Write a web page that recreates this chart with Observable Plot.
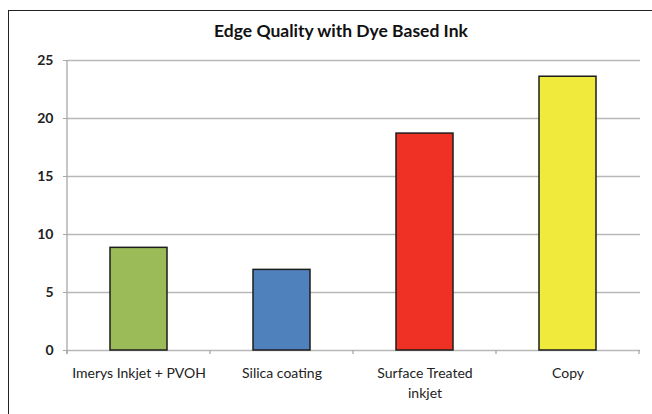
<!DOCTYPE html>
<html><head><meta charset="utf-8">
<script src="https://cdn.jsdelivr.net/npm/d3@7"></script>
<script src="https://cdn.jsdelivr.net/npm/@observablehq/plot@0.6"></script>
<style>
body{margin:0;background:#fff;overflow:hidden}
#wrap{position:relative;width:652px;height:414px;overflow:hidden;font-family:Lato,"Open Sans",sans-serif;background:#fff}
#frame{position:absolute;left:8px;top:10px;width:800px;height:600px;border:1.5px solid #222;box-sizing:border-box}
#title{position:absolute;top:21px;left:0;width:682px;text-align:center;font-weight:bold;font-size:17.5px;color:#111;line-height:20px}
#chart{position:absolute;left:0;top:0}
</style></head><body>
<div id="wrap"><div id="frame"></div><div id="title">Edge Quality with Dye Based Ink</div><div id="chart"></div></div>
<script>
const categories = ["Imerys Inkjet + PVOH", "Silica coating", "Surface Treated inkjet", "Copy"];
const values = [8.85, 6.95, 18.7, 23.6];
const tickLabels = ["Imerys Inkjet + PVOH", "Silica coating", "Surface Treated\ninkjet", "Copy"];
const colors = ["#9bbb59", "#4f81bd", "#ee3124", "#f0ea3c"];
const yTicks = [0, 5, 10, 15, 20, 25];

const data = categories.map((c, i) => ({category: c, value: values[i], color: colors[i]}));

// Category boundary ticks and the vertical y-axis line, derived from the scales
function axisDecor(index, scales) {
  const x = scales.x, y = scales.y;
  const bw = x.bandwidth(), step = x.step();
  const half = (step - bw) / 2;
  const bounds = categories.map(c => x(c) - half);
  bounds.push(x(categories[categories.length - 1]) + bw + half);
  const g = d3.create("svg:g").attr("stroke", "#a8a8a8").attr("stroke-width", 1.3);
  g.append("line").attr("x1", bounds[0]).attr("x2", bounds[0]).attr("y1", y(yTicks[yTicks.length - 1])).attr("y2", y(0) + 4);
  for (const b of bounds) {
    g.append("line").attr("x1", b).attr("x2", b).attr("y1", y(0)).attr("y2", y(0) + 4);
  }
  return g.node();
}

const chart = Plot.plot({
  width: 652,
  height: 414,
  marginLeft: 67,
  marginRight: 12,
  marginTop: 60,
  marginBottom: 64,
  style: {fontFamily: "Lato, 'Open Sans', sans-serif", background: "transparent"},
  x: {domain: categories, paddingInner: 0.6, paddingOuter: 0.3},
  y: {domain: [0, 25]},
  color: {type: "identity"},
  marks: [
    Plot.gridY(yTicks, {stroke: "#b8b8b8", strokeOpacity: 1, strokeWidth: 1.3}),
    axisDecor,
    Plot.axisY(yTicks, {tickSize: 4, tickPadding: 10, stroke: "#a8a8a8", fill: "#222", fontSize: 14, fontWeight: "bold", label: null}),
    Plot.axisX({tickSize: 0, tickPadding: 13, fontSize: 14, fill: "#222", lineHeight: 1.45, label: null,
      tickFormat: d => tickLabels[categories.indexOf(d)]}),
    Plot.barY(data, {x: "category", y: "value", fill: "color", stroke: "#1c1c1c", strokeWidth: 1.5})
  ]
});
document.getElementById("chart").appendChild(chart);
</script>
</body></html>
